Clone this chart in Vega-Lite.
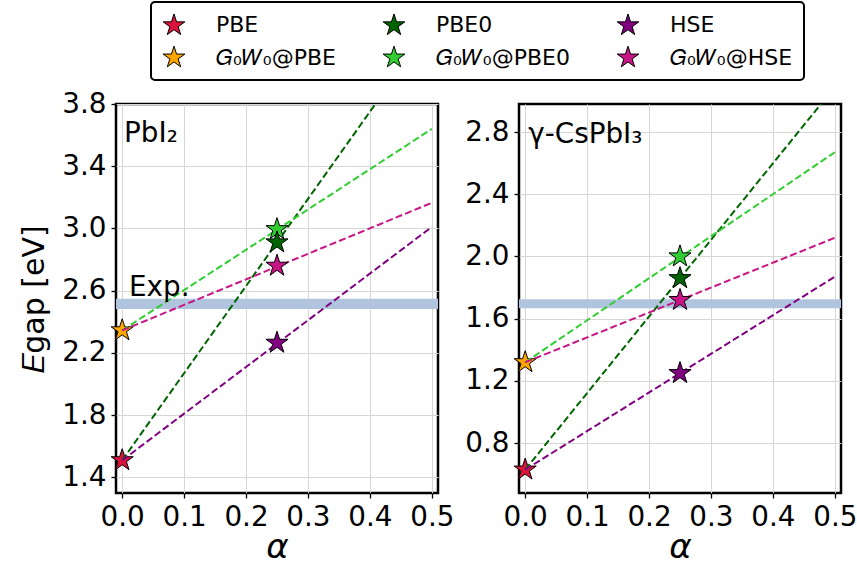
{
  "$schema": "https://vega.github.io/schema/vega-lite/v6.json",
  "padding": {"left": 18, "top": 1, "right": 2, "bottom": 0},
  "background": "white",
  "config": {
    "font": "DejaVu Sans",
    "view": {"stroke": "black", "strokeWidth": 2.5},
    "axis": {
      "labelFont": "DejaVu Sans", "labelFontSize": 27.8, "labelColor": "black",
      "tickColor": "black", "tickSize": 5, "tickWidth": 1.3, "labelPadding": 5,
      "domain": false, "gridColor": "#d6d6d6", "gridWidth": 1,
      "titleFont": "DejaVu Sans", "titleFontWeight": "normal", "titleColor": "black",
      "labelFlush": false, "labelOverlap": false, "labelBound": false
    },
    "legend": {
      "strokeColor": "black", "strokeWidth": 2, "cornerRadius": 4, "padding": 11, "fillColor": "white",
      "labelFont": "DejaVu Sans", "labelFontSize": 22, "labelColor": "black", "labelOffset": 30,
      "symbolSize": 520, "symbolStrokeColor": "black", "symbolStrokeWidth": 1, "symbolOpacity": 1,
      "columnPadding": 45, "rowPadding": 6.6
    }
  },
  "datasets": {
    "points": [
      {"panel": "PbI2", "method": "PBE", "alpha": 0, "egap": 1.51},
      {"panel": "PbI2", "method": "G0W0@PBE", "alpha": 0, "egap": 2.345},
      {"panel": "PbI2", "method": "HSE", "alpha": 0.25, "egap": 2.265},
      {"panel": "PbI2", "method": "G0W0@HSE", "alpha": 0.25, "egap": 2.76},
      {"panel": "PbI2", "method": "G0W0@PBE0", "alpha": 0.25, "egap": 2.995},
      {"panel": "PbI2", "method": "PBE0", "alpha": 0.25, "egap": 2.91},
      {"panel": "CsPbI3", "method": "PBE", "alpha": 0, "egap": 0.63},
      {"panel": "CsPbI3", "method": "G0W0@PBE", "alpha": 0, "egap": 1.32},
      {"panel": "CsPbI3", "method": "HSE", "alpha": 0.25, "egap": 1.25},
      {"panel": "CsPbI3", "method": "G0W0@HSE", "alpha": 0.25, "egap": 1.72},
      {"panel": "CsPbI3", "method": "G0W0@PBE0", "alpha": 0.25, "egap": 2.0},
      {"panel": "CsPbI3", "method": "PBE0", "alpha": 0.25, "egap": 1.86}
    ],
    "lines": [
      {"panel": "PbI2", "line": "PBE0", "alpha": 0, "egap": 1.51},
      {"panel": "PbI2", "line": "PBE0", "alpha": 0.5, "egap": 4.31},
      {"panel": "PbI2", "line": "G0W0@PBE0", "alpha": 0, "egap": 2.345},
      {"panel": "PbI2", "line": "G0W0@PBE0", "alpha": 0.5, "egap": 3.64},
      {"panel": "PbI2", "line": "HSE", "alpha": 0, "egap": 1.51},
      {"panel": "PbI2", "line": "HSE", "alpha": 0.5, "egap": 3.01},
      {"panel": "PbI2", "line": "G0W0@HSE", "alpha": 0, "egap": 2.345},
      {"panel": "PbI2", "line": "G0W0@HSE", "alpha": 0.5, "egap": 3.165},
      {"panel": "CsPbI3", "line": "PBE0", "alpha": 0, "egap": 0.63},
      {"panel": "CsPbI3", "line": "PBE0", "alpha": 0.5, "egap": 3.09},
      {"panel": "CsPbI3", "line": "G0W0@PBE0", "alpha": 0, "egap": 1.32},
      {"panel": "CsPbI3", "line": "G0W0@PBE0", "alpha": 0.5, "egap": 2.67},
      {"panel": "CsPbI3", "line": "HSE", "alpha": 0, "egap": 0.63},
      {"panel": "CsPbI3", "line": "HSE", "alpha": 0.5, "egap": 1.87},
      {"panel": "CsPbI3", "line": "G0W0@HSE", "alpha": 0, "egap": 1.32},
      {"panel": "CsPbI3", "line": "G0W0@HSE", "alpha": 0.5, "egap": 2.12}
    ],
    "exp": [
      {"panel": "PbI2", "lo": 2.482, "hi": 2.548},
      {"panel": "CsPbI3", "lo": 1.668, "hi": 1.725}
    ],
    "labels": [
      {"panel": "PbI2", "label": "PbI₂"},
      {"panel": "CsPbI3", "label": "γ-CsPbI₃"}
    ],
    "explabel": [
      {"panel": "PbI2", "label": "Exp."}
    ]
  },
  "bounds": "flush",
  "spacing": 81,
  "hconcat": [
    {
      "width": 322, "height": 389,
      "layer": [
        {
          "data": {"name": "exp"},
          "transform": [{"filter": "datum.panel === 'PbI2'"}],
          "mark": {"type": "rect", "color": "#b0c4de", "opacity": 1},
          "encoding": {
            "y": {"field": "lo", "type": "quantitative", "scale": {"domain": [1.3, 3.8], "nice": false, "zero": false},
              "axis": {"title": "𝐸gap [eV]", "titleFontSize": 30, "titlePadding": 12, "values": [1.4, 1.8, 2.2, 2.6, 3.0, 3.4, 3.8], "format": ".1f"}},
            "y2": {"field": "hi"}
          }
        },
        {
          "data": {"name": "points"},
          "transform": [{"filter": "datum.panel === 'PbI2' && datum.alpha === 0"}],
          "mark": {"type": "point", "shape": "M0,-1L0.2245,-0.309L0.9511,-0.309L0.3633,0.118L0.5878,0.809L0,0.382L-0.5878,0.809L-0.3633,0.118L-0.9511,-0.309L-0.2245,-0.309Z", "filled": true, "size": 540, "stroke": "black", "strokeWidth": 1, "opacity": 1},
          "encoding": {
            "x": {"field": "alpha", "type": "quantitative", "scale": {"domain": [-0.01, 0.51], "nice": false, "zero": false},
              "axis": {"title": "α", "titleFontStyle": "italic", "titleFontSize": 34, "titlePadding": 0, "values": [0, 0.1, 0.2, 0.3, 0.4, 0.5], "format": ".1f"}},
            "y": {"field": "egap", "type": "quantitative"},
            "fill": {"field": "method", "type": "nominal",
              "scale": {"domain": ["PBE", "PBE0", "HSE", "G0W0@PBE", "G0W0@PBE0", "G0W0@HSE"], "range": ["#dc143c", "#006400", "#800080", "#ffa500", "#32cd32", "#c71585"]},
              "legend": {"orient": "none", "legendX": 35, "legendY": -102, "columns": 3, "direction": "horizontal", "title": null,
                "symbolType": "M0,-1L0.2245,-0.309L0.9511,-0.309L0.3633,0.118L0.5878,0.809L0,0.382L-0.5878,0.809L-0.3633,0.118L-0.9511,-0.309L-0.2245,-0.309Z",
                "labelExpr": "replace(datum.label, 'G0W0', '𝐺₀𝑊₀')"}}
          }
        },
        {
          "data": {"name": "lines"},
          "transform": [{"filter": "datum.panel === 'PbI2'"}],
          "mark": {"type": "line", "strokeDash": [7, 3.2], "strokeWidth": 2, "clip": true},
          "encoding": {
            "x": {"field": "alpha", "type": "quantitative"},
            "y": {"field": "egap", "type": "quantitative"},
            "stroke": {"field": "line", "type": "nominal", "legend": null,
              "scale": {"domain": ["PBE0", "G0W0@PBE0", "HSE", "G0W0@HSE"], "range": ["#006400", "#32cd32", "#800080", "#c71585"]}}
          }
        },
        {
          "data": {"name": "points"},
          "transform": [{"filter": "datum.panel === 'PbI2' && datum.alpha > 0"}],
          "mark": {"type": "point", "shape": "M0,-1L0.2245,-0.309L0.9511,-0.309L0.3633,0.118L0.5878,0.809L0,0.382L-0.5878,0.809L-0.3633,0.118L-0.9511,-0.309L-0.2245,-0.309Z", "filled": true, "size": 540, "stroke": "black", "strokeWidth": 1, "opacity": 1},
          "encoding": {
            "x": {"field": "alpha", "type": "quantitative"},
            "y": {"field": "egap", "type": "quantitative"},
            "fill": {"field": "method", "type": "nominal"}
          }
        },
        {
          "data": {"name": "labels"},
          "transform": [{"filter": "datum.panel === 'PbI2'"}],
          "mark": {"type": "text", "align": "left", "baseline": "alphabetic", "fontSize": 27.8, "font": "DejaVu Sans", "color": "black"},
          "encoding": {"x": {"datum": 0.003}, "y": {"datum": 3.555}, "text": {"field": "label"}}
        },
        {
          "data": {"name": "explabel"},
          "mark": {"type": "text", "align": "left", "baseline": "alphabetic", "fontSize": 27.8, "font": "DejaVu Sans", "color": "black"},
          "encoding": {"x": {"datum": 0.011}, "y": {"datum": 2.568}, "text": {"field": "label"}}
        }
      ]
    },
    {
      "width": 322, "height": 389,
      "layer": [
        {
          "data": {"name": "exp"},
          "transform": [{"filter": "datum.panel === 'CsPbI3'"}],
          "mark": {"type": "rect", "color": "#b0c4de", "opacity": 1},
          "encoding": {
            "y": {"field": "lo", "type": "quantitative", "scale": {"domain": [0.48, 2.98], "nice": false, "zero": false},
              "axis": {"title": null, "values": [0.8, 1.2, 1.6, 2.0, 2.4, 2.8], "format": ".1f"}},
            "y2": {"field": "hi"}
          }
        },
        {
          "data": {"name": "points"},
          "transform": [{"filter": "datum.panel === 'CsPbI3' && datum.alpha === 0"}],
          "mark": {"type": "point", "shape": "M0,-1L0.2245,-0.309L0.9511,-0.309L0.3633,0.118L0.5878,0.809L0,0.382L-0.5878,0.809L-0.3633,0.118L-0.9511,-0.309L-0.2245,-0.309Z", "filled": true, "size": 540, "stroke": "black", "strokeWidth": 1, "opacity": 1},
          "encoding": {
            "x": {"field": "alpha", "type": "quantitative", "scale": {"domain": [-0.01, 0.51], "nice": false, "zero": false},
              "axis": {"title": "α", "titleFontStyle": "italic", "titleFontSize": 34, "titlePadding": 0, "values": [0, 0.1, 0.2, 0.3, 0.4, 0.5], "format": ".1f"}},
            "y": {"field": "egap", "type": "quantitative"},
            "fill": {"field": "method", "type": "nominal"}
          }
        },
        {
          "data": {"name": "lines"},
          "transform": [{"filter": "datum.panel === 'CsPbI3'"}],
          "mark": {"type": "line", "strokeDash": [7, 3.2], "strokeWidth": 2, "clip": true},
          "encoding": {
            "x": {"field": "alpha", "type": "quantitative"},
            "y": {"field": "egap", "type": "quantitative"},
            "stroke": {"field": "line", "type": "nominal", "legend": null}
          }
        },
        {
          "data": {"name": "points"},
          "transform": [{"filter": "datum.panel === 'CsPbI3' && datum.alpha > 0"}],
          "mark": {"type": "point", "shape": "M0,-1L0.2245,-0.309L0.9511,-0.309L0.3633,0.118L0.5878,0.809L0,0.382L-0.5878,0.809L-0.3633,0.118L-0.9511,-0.309L-0.2245,-0.309Z", "filled": true, "size": 540, "stroke": "black", "strokeWidth": 1, "opacity": 1},
          "encoding": {
            "x": {"field": "alpha", "type": "quantitative"},
            "y": {"field": "egap", "type": "quantitative"},
            "fill": {"field": "method", "type": "nominal"}
          }
        },
        {
          "data": {"name": "labels"},
          "transform": [{"filter": "datum.panel === 'CsPbI3'"}],
          "mark": {"type": "text", "align": "left", "baseline": "alphabetic", "fontSize": 27.8, "font": "DejaVu Sans", "color": "black"},
          "encoding": {"x": {"datum": 0.005}, "y": {"datum": 2.729}, "text": {"field": "label"}}
        }
      ]
    }
  ]
}
